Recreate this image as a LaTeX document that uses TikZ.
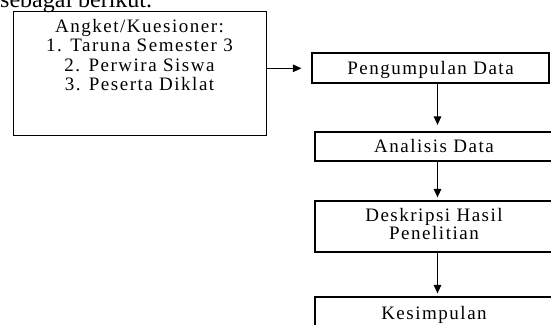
\documentclass[tikz,border=0pt]{standalone}
\usepackage{fontspec}
\setmainfont{Liberation Serif}
\usetikzlibrary{arrows.meta}
\tikzset{
  boxstyle/.style={draw=black, line width=1.2pt, rectangle, inner sep=0pt},
  txtstyle/.style={font=\fontsize{19}{19.4}\selectfont\addfontfeature{LetterSpace=8}, align=center, inner sep=0pt},
  onetxt/.style={txtstyle, text height=12.4pt, text depth=0pt},
  arr/.style={draw=black, line width=1.2pt, -{Triangle[length=8.5pt,width=7.5pt]}}
}
\begin{document}
\begin{tikzpicture}[x=1pt,y=-1pt]
\useasboundingbox (0,0) rectangle (551,324);
\clip (0,0) rectangle (551,324);
% cut-off heading
\node[anchor=base west, inner sep=0pt, font=\fontsize{24}{24}\selectfont] (head) at (0,7) {sebagai berikut.};
% source box
\node[boxstyle, minimum width=253pt, minimum height=124.5pt, anchor=north west] (src) at (13,10.5) {};
\node[txtstyle, anchor=north] (srctxt) at (139.5,19) {Angket/Kuesioner:\\1. Taruna Semester 3\\2. Perwira Siswa\\3. Peserta Diklat};
% right column
\node[boxstyle, onetxt, minimum width=237pt, minimum height=30pt] (p1) at (430.5,68) {Pengumpulan Data};
\node[boxstyle, onetxt, minimum width=238pt, minimum height=29pt] (p2) at (434,146.5) {Analisis Data};
\node[boxstyle, minimum width=238pt, minimum height=51pt] (p3) at (434,226.5) {};
\node[txtstyle, font=\fontsize{19}{18}\selectfont\addfontfeature{LetterSpace=8}, anchor=north] (p3txt) at (434,208) {Deskripsi Hasil\\Penelitian};
\node[boxstyle, onetxt, minimum width=238pt, minimum height=32.6pt] (p4) at (434,313.3) {Kesimpulan};
\coordinate (ax) at (437.5,0);
\coordinate (ay) at (0,68.3);
% connectors
\draw[arr, shorten >=10pt] (src.east |- ay) -- (p1.west |- ay);
\draw[arr, shorten >=6.5pt] (p1.south -| ax) -- (p2.north -| ax);
\draw[arr, shorten >=3pt] (p2.south -| ax) -- (p3.north -| ax);
\draw[arr, shorten >=3pt] (p3.south -| ax) -- (p4.north -| ax);
\end{tikzpicture}
\end{document}
